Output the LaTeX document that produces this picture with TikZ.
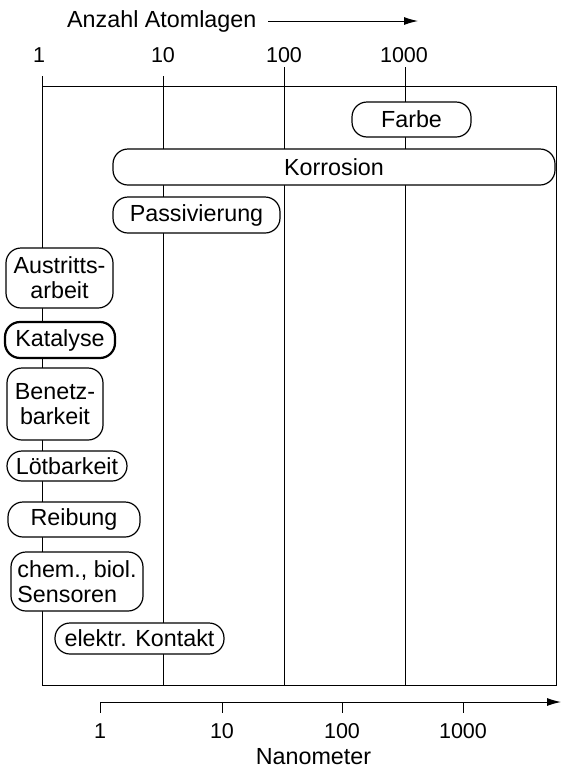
\documentclass[tikz,border=0pt]{standalone}
\usepackage{fontspec}
\setmainfont{Liberation Sans}
\usetikzlibrary{arrows.meta}
\begin{document}
\begin{tikzpicture}[x=1pt,y=-1pt,
  lbl/.style={font=\fontsize{23.3}{25}\selectfont, inner sep=0pt},
  num/.style={font=\fontsize{21.5}{24}\selectfont, inner sep=0pt, anchor=base},
  item/.style={draw, line width=1.2pt, rounded corners=15pt, fill=white, inner sep=0pt, align=center, font=\fontsize{23.3}{25}\selectfont},
  gridline/.style={line width=1pt},
  arr/.style={line width=1pt, -{Latex[length=14pt,width=8pt]}},
]
\useasboundingbox (0,0) rectangle (561,769);

% top axis title
\node[lbl, anchor=base west] (title) at (67,27) {Anzahl Atomlagen};
\coordinate (ta) at (268,21);
\coordinate (tb) at (418,21);
\draw[arr] (ta) -- (tb);

% top tick coordinates
\coordinate (t1) at (42,76);
\coordinate (t10) at (163,76);
\coordinate (t100) at (284,67);
\coordinate (t1000) at (405,67);
\coordinate (b1) at (42,685);
\coordinate (b10) at (163,685);
\coordinate (b100) at (284,685);
\coordinate (b1000) at (405,685);

\node[num] (n1) at (39,62) {1};
\node[num] (n10) at (163,62) {10};
\node[num] (n100) at (284,62) {100};
\node[num] (n1000) at (404,62) {1000};

% frame and grid lines
\draw[gridline] (42,86) rectangle (556,685);
\draw[gridline] (t1) -- (b1);
\draw[gridline] (t10) -- (b10);
\draw[gridline] (t100) -- (b100);
\draw[gridline] (t1000) -- (b1000);

% property boxes
\node[item, minimum width=119pt, minimum height=35pt] (farbe) at (411.5,119.5) {Farbe};
\node[item, minimum width=442pt, minimum height=36pt] (korrosion) at (334,167) {Korrosion};
\node[item, minimum width=167pt, minimum height=36pt] (passiv) at (196.5,215) {Passivierung};
\node[item, minimum width=107pt, minimum height=60pt] (austritt) at (59.5,278) {Austritts-\\arbeit};
\node[item, line width=2.2pt, minimum width=110pt, minimum height=36pt] (katalyse) at (60,340) {Katalyse};
\node[item, minimum width=96pt, minimum height=72pt] (benetz) at (55,404) {Benetz-\\barkeit};
\node[item, minimum width=120pt, minimum height=30pt] (loet) at (67,466) {Lötbarkeit};
\node[item, minimum width=132pt, minimum height=35pt] (reibung) at (74,519.5) {Reibung};
\node[item, align=left, minimum width=132pt, minimum height=59pt] (sensoren) at (77,581.5) {chem., biol.\\Sensoren};
\node[item, minimum width=169pt, minimum height=31pt] (kontakt) at (139.5,638.5) {elektr. Kontakt};

% bottom axis
\coordinate (xa) at (100,702);
\coordinate (xb) at (561,702);
\draw[arr] (xa) -- (xb);
\foreach \x/\t in {100/1,222/10,342/100,463/1000}{
  \draw[gridline] (\x,702) -- (\x,713);
  \node[num] at (\x,738) {\t};
}
\node[lbl, anchor=base] (nm) at (313.5,764) {Nanometer};
\end{tikzpicture}
\end{document}
